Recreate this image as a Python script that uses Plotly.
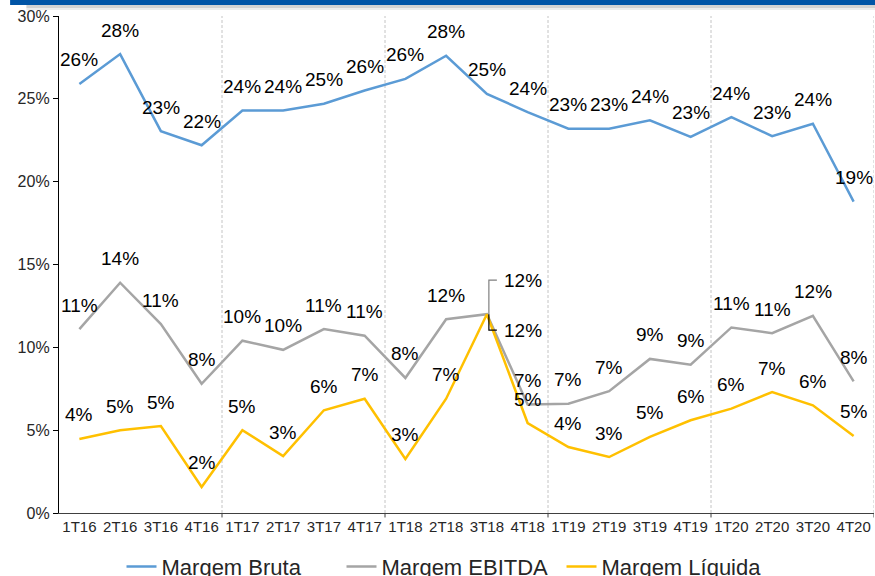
import plotly.graph_objects as go

quarters = ["1T16", "2T16", "3T16", "4T16", "1T17", "2T17", "3T17", "4T17",
            "1T18", "2T18", "3T18", "4T18", "1T19", "2T19", "3T19", "4T19",
            "1T20", "2T20", "3T20", "4T20"]
margem_bruta = [25.9, 27.7, 23.05, 22.2, 24.3, 24.3, 24.7, 25.5, 26.2, 27.6,
                25.3, 24.2, 23.2, 23.2, 23.7, 22.7, 23.9, 22.75, 23.5, 18.8]
margem_ebitda = [11.1, 13.9, 11.4, 7.8, 10.4, 9.85, 11.1, 10.7, 8.15, 11.7,
                 12.0, 6.55, 6.6, 7.35, 9.3, 8.95, 11.2, 10.85, 11.9, 7.95]
margem_liquida = [4.47, 5.0, 5.25, 1.57, 5.0, 3.44, 6.2, 6.9, 3.26, 6.9,
                  12.0, 5.43, 3.98, 3.38, 4.6, 5.6, 6.3, 7.3, 6.5, 4.65]
y_ticks = [0, 5, 10, 15, 20, 25, 30]

series = [
    ("Margem Bruta", margem_bruta, "#5B9BD5"),
    ("Margem EBITDA", margem_ebitda, "#A5A5A5"),
    ("Margem Líquida", margem_liquida, "#FFC000"),
]

FONT = "Liberation Sans"
fig = go.Figure()
for name, vals, color in series:
    fig.add_trace(go.Scatter(x=quarters, y=vals, mode="lines", name=name,
                             line=dict(color=color, width=2.5)))

annotations = []
special = "3T18"
for name, vals, color in series:
    for q, v in zip(quarters, vals):
        txt = f"{round(v)}%"
        if q == special and name != "Margem Bruta":
            up = name == "Margem EBITDA"
            annotations.append(dict(x=q, y=v, text=txt, showarrow=False,
                                    xanchor="left", yanchor="middle",
                                    xshift=15, yshift=34 if up else -16,
                                    font=dict(size=19, color="#000000", family=FONT)))
        else:
            annotations.append(dict(x=q, y=v, text=txt, showarrow=False,
                                    xanchor="center", yanchor="middle",
                                    yshift=24,
                                    font=dict(size=19, color="#000000", family=FONT)))

shapes = []
# leader brackets for 3T18 labels
ebitda_v = margem_ebitda[quarters.index(special)]
liq_v = margem_liquida[quarters.index(special)]
shapes.append(dict(type="path", xref="x", yref="y", xsizemode="pixel", ysizemode="pixel",
                   xanchor=special, yanchor=ebitda_v, path="M2,0 L2,34 L10,34",
                   line=dict(color="#7F7F7F", width=1.2)))
shapes.append(dict(type="path", xref="x", yref="y", xsizemode="pixel", ysizemode="pixel",
                   xanchor=special, yanchor=liq_v, path="M2,0 L2,-16 L10,-16",
                   line=dict(color="#000000", width=1.2)))

# year separators
for k in range(4, len(quarters) + 1, 4):
    xb = k - 0.5
    shapes.append(dict(type="line", xref="x", yref="paper", x0=xb, x1=xb, y0=0, y1=1,
                       line=dict(color="#C4C4C4", width=1, dash="3px,2px"), layer="below"))
    shapes.append(dict(type="line", xref="x", yref="paper", x0=xb, x1=xb, y0=-0.009, y1=0,
                       line=dict(color="#404040", width=1)))

# header bar with soft shadow
shadow = [(1.012, 1.016, "#ECECEC"), (1.016, 1.022, "#D2D2D2")]
for y0, y1, c in shadow:
    shapes.append(dict(type="rect", xref="paper", yref="paper", x0=-0.04, x1=1.01,
                       y0=y0, y1=y1, fillcolor=c, line=dict(width=0), layer="below"))
shapes.append(dict(type="rect", xref="paper", yref="paper", x0=-0.06, x1=1.01,
                   y0=1.022, y1=1.04, fillcolor="#0054A6", line=dict(width=0)))

fig.update_layout(
    width=875, height=576,
    margin=dict(l=59, r=1, t=16, b=63, autoexpand=False),
    paper_bgcolor="white", plot_bgcolor="white",
    font=dict(family=FONT, color="#262626"),
    showlegend=True,
    legend=dict(orientation="h", x=0.4816, xanchor="center", y=-0.108, yanchor="middle",
                font=dict(size=22, color="#262626", family=FONT), itemwidth=30,
                entrywidth=175, entrywidthmode="pixels",
                bgcolor="rgba(0,0,0,0)"),
    annotations=annotations,
    shapes=shapes,
    xaxis=dict(type="category", range=[-0.5, len(quarters) - 0.5], showgrid=False,
               showline=True, linecolor="#404040", linewidth=1.3, ticks="",
               automargin=False,
               tickfont=dict(size=15, color="#262626"), zeroline=False),
    yaxis=dict(range=[0, 30], tickvals=y_ticks, ticktext=[f"{t}%" for t in y_ticks],
               showgrid=False, showline=True, linecolor="#000000", linewidth=1.3,
               ticks="outside", ticklen=5, tickcolor="#000000", automargin=False,
               tickfont=dict(size=16, color="#262626"), zeroline=False),
)

fig.write_html("out.html", config={"displayModeBar": False},
               post_script="document.body.style.margin='0px';document.body.style.overflow='hidden';")
